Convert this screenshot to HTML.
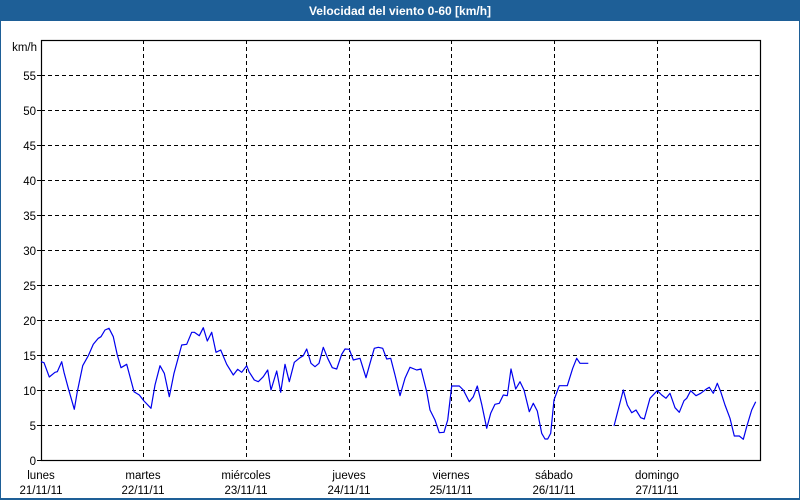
<!DOCTYPE html>
<html><head><meta charset="utf-8"><style>
html,body{margin:0;padding:0;background:#fff;}
svg{display:block;}
text{font-family:"Liberation Sans","DejaVu Sans",sans-serif;font-size:11.5px;fill:#000;}
</style></head><body>
<svg width="800" height="500" viewBox="0 0 800 500" xmlns="http://www.w3.org/2000/svg">
<rect x="0" y="0" width="800" height="500" fill="#1e5f97"/>
<rect x="1" y="21" width="798" height="477" fill="#fff"/>
<text x="400" y="15" text-anchor="middle" style="font-weight:bold;fill:#fff;font-size:12px">Velocidad del viento 0-60 [km/h]</text>
<g stroke="#000" stroke-width="1" stroke-dasharray="4,3" fill="none">
<path d="M41 75.5H760M41 110.5H760M41 145.5H760M41 180.5H760M41 215.5H760M41 250.5H760M41 285.5H760M41 320.5H760M41 355.5H760M41 390.5H760M41 425.5H760"/>
<path d="M143.5 40V460M246.5 40V460M349.5 40V460M451.5 40V460M554.5 40V460M657.5 40V460"/>
</g>
<rect x="41.5" y="40.5" width="719" height="420" fill="none" stroke="#000" stroke-width="1.2"/>
<g stroke="#000"><path d="M37 460.5H41M37 425.5H41M37 390.5H41M37 355.5H41M37 320.5H41M37 285.5H41M37 250.5H41M37 215.5H41M37 180.5H41M37 145.5H41M37 110.5H41M37 75.5H41"/></g>
<g text-anchor="end">
<text x="37" y="51">km/h</text>
<text x="36" y="80">55</text><text x="36" y="115">50</text><text x="36" y="150">45</text><text x="36" y="185">40</text>
<text x="36" y="220">35</text><text x="36" y="255">30</text><text x="36" y="290">25</text><text x="36" y="325">20</text>
<text x="36" y="360">15</text><text x="36" y="395">10</text><text x="36" y="430">5</text><text x="36" y="465">0</text>
</g>
<g text-anchor="middle">
<text x="41" y="479">lunes</text><text x="41" y="494">21/11/11</text>
<text x="143" y="479">martes</text><text x="143" y="494">22/11/11</text>
<text x="246" y="479">miércoles</text><text x="246" y="494">23/11/11</text>
<text x="349" y="479">jueves</text><text x="349" y="494">24/11/11</text>
<text x="451" y="479">viernes</text><text x="451" y="494">25/11/11</text>
<text x="554" y="479">sábado</text><text x="554" y="494">26/11/11</text>
<text x="657" y="479">domingo</text><text x="657" y="494">27/11/11</text>
</g>
<g fill="none" stroke="#0000ee" stroke-width="1.2" stroke-linejoin="round">
<polyline points="41,361.7 44,362.7 49.3,377 55,372.3 57.3,371.7 61.7,361.7 64,372.3 68.3,388.3 74.3,409.3 77.3,391.7 82.7,365.7 88.3,355.7 93.3,344.3 98.3,338.3 101,336.7 105,330 109,328.3 113.3,336.7 117.3,355 121,367.7 126.7,364.3 134,391.7 139.3,395 144,401 151,408.3 155,385 160,365.7 164.3,373.3 169.3,396.7 174,373.3 181.7,345 186.7,344.3 191.7,332.3 194.3,332.3 199.3,335.7 203.3,327.7 207.3,341 211.7,332.3 216,352.3 220.7,350 226.7,364.3 233.3,375 237.7,369.3 241.7,372.3 246.7,365.7 249,371.7 254.3,380 258.3,381.7 263.3,376.7 267.7,370 271,390 276.7,371 280.7,392.3 285,364.3 289.3,381.7 294.3,362.3 300,357.7 303.3,355.7 306.7,349 311,363.3 315,366.7 319,363.3 323.3,347.3 327.7,358.3 332.3,367.7 336.7,369 341.7,354.3 345,349 349.3,349.3 353.3,360 360,358.3 366,377.7 370,363.3 374.3,348.3 378.3,347.3 382.7,348.3 386.7,359 390.7,358.3 395,375 400,395.7 405,378.3 410,367.3 416.7,370 421,369 426.7,391.7 430,410 435,420 439.3,432.7 444,432.3 447.7,420 451.7,386 459.3,386 463.3,390 469.3,401.7 473.3,396.7 477.3,386 481.7,404.3 486.7,428.3 490.7,413.3 495,404.3 499.3,403.3 503.3,395 507.3,395.7 511,369 515.7,389 520,381.7 524,390 529.3,411.7 533.3,403.3 537.3,411 541.7,433.3 545,439 547.7,439 550.7,433.3 554,400 559.3,385.7 567.3,385.7 572.7,368.3 576.7,358.3 580,363.3 588.3,363.3"/>
<polyline points="614,426 623.3,390 627.3,405 631.7,412.7 636,410 640.7,417.7 644.3,419 650,398.3 657.3,390.7 661.7,395 666,398.3 670,393.3 675,407.7 679.3,412.3 684,400.7 686.7,398.3 690.7,390.7 696,395.7 700.7,393.3 706,389.3 709.3,387.3 713.3,393.3 717.3,383.3 720.7,391.7 725,405 730,418.3 734.3,436 739.3,436 743.3,439.3 746.7,426.7 751.7,410 755.7,401.7"/>
</g>
</svg>
</body></html>
